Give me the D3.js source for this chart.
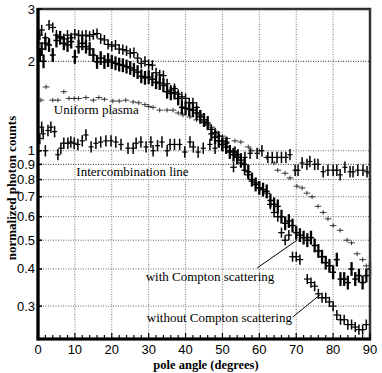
<!DOCTYPE html>
<html>
<head>
<meta charset="utf-8">
<script src="https://cdn.jsdelivr.net/npm/d3@7"></script>
<style>
body { margin: 0; background: #fff; }
</style>
</head>
<body>
<script>
// tick values
var xTicks = [0, 10, 20, 30, 40, 50, 60, 70, 80, 90];
var yTicks = [0.3, 0.4, 0.5, 0.6, 0.7, 0.8, 0.9, 1, 2, 3];

// [pole angle, normalized counts]
var withoutCompton = [[0.5,2.45],[1,2.55],[2,2.4],[3,2.65],[4,2.6],[5,2.45],[6,2.42],[7,2.38],[8,2.45],[9,2.4],
  [10,2.47],[11,2.45],[12,2.44],[13,2.45],[14,2.43],[15,2.46],[16,2.48],[17,2.38],[18,2.36],[19,2.28],
  [20,2.25],[21,2.27],[22,2.2],[23,2.19],[24,2.17],[25,2.13],[26,2.14],[27,2.05],[28,1.97],[29,2.0],
  [30,1.95],[31,1.94],[32,1.83],[33,1.8],[34,1.79],[35,1.68],[36,1.6],[37,1.62],[38,1.55],[39,1.52],
  [40,1.5],[41,1.45],[42,1.45],[43,1.4],[44,1.32],[45,1.25],[46,1.22],[47,1.18],[48,1.15],[49,1.12],
  [50,1.08],[51,1.07],[52,1.0],[53,0.88],[54,0.95],[55,0.91],[56,0.86],[57,0.83],[58,0.79],[59,0.78],
  [60,0.75],[62,0.72],[63,0.66],[64,0.62],[65,0.6],[66,0.53],[67,0.5],[68,0.52],[69,0.44],[70,0.44],
  [71,0.43],[73,0.37],[74,0.36],[75,0.35],[76,0.33],[77,0.32],[78,0.32],[79,0.31],[80,0.3],[81,0.28],
  [82,0.27],[83,0.27],[84,0.26],[85,0.26],[86,0.255],[87,0.25],[88,0.25],[89,0.26]];

var withCompton = [[0,2.3],[0.5,2.1],[1,2.2],[1.5,2.0],[2,2.3],[3,2.27],[4,2.1],[5,2.35],[6,2.4],[7,2.3],
  [8,2.27],[9,2.33],[10,2.07],[11,2.24],[12,2.3],[13,2.24],[14,2.2],[15,2.1],[16,1.99],[17,2.05],
  [18,1.99],[19,2.02],[20,1.99],[21,1.97],[22,1.95],[23,1.94],[24,1.92],[25,1.9],[26,1.87],[27,1.84],
  [28,1.78],[29,1.76],[30,1.77],[31,1.74],[32,1.7],[33,1.69],[34,1.66],[35,1.58],[36,1.56],[37,1.57],
  [38,1.5],[39,1.4],[40,1.39],[41,1.38],[42,1.37],[43,1.34],[44,1.3],[45,1.27],[46,1.24],[47,1.14],
  [48,1.11],[49,1.08],[50,1.05],[51,1.03],[52,0.99],[53,0.97],[54,0.95],[55,0.93],[56,0.9],[57,0.85],
  [58,0.8],[59,0.77],[60,0.75],[61,0.74],[62,0.73],[63,0.68],[64,0.66],[65,0.65],[66,0.6],[67,0.57],
  [68,0.58],[69,0.56],[70,0.53],[71,0.52],[72,0.51],[73,0.5],[74,0.51],[75,0.48],[76,0.46],[77,0.44],
  [78,0.42],[79,0.41],[80,0.39],[81,0.43],[82,0.37],[83,0.37],[84,0.36],[85,0.4],[86,0.37],[87,0.38],
  [88,0.36],[89,0.38],[90,0.4]];

var uniformPlasma = [[0.8,1.48],[2.2,1.64],[4,1.48],[5.4,1.48],[7,1.58],[8.4,1.5],[9.8,1.5],[11,1.5],
  [13,1.51],[15,1.48],[16.5,1.51],[18,1.49],[20.3,1.47],[22,1.47],[23.8,1.48],[25.8,1.46],[27.3,1.45],
  [29,1.43],[30,1.41],[31.2,1.4],[33,1.37],[35,1.37],[36.6,1.37],[38,1.34],[39.3,1.32],[41.2,1.3],
  [43,1.27],[45.3,1.24],[47,1.2],[48.5,1.15],[50,1.12],[51.2,1.1],[53.4,1.08],[55,1.07],[57,1.03],
  [58,1.0],[60,1.0],[62,0.95],[64,0.91],[65,0.86],[67,0.84],[68.3,0.81],[70.2,0.76],[71.6,0.75],
  [72.9,0.72],[74.3,0.7],[75.9,0.65],[77.3,0.62],[78.6,0.59],[80,0.56],[81.9,0.54],[83.8,0.5],
  [85,0.49],[86.5,0.45],[88,0.43],[89,0.41]];

var intercombination = [[0,1.0],[0.5,1.1],[1,1.2],[1.4,1.14],[2,1.0],[2.7,1.17],[3.5,1.2],[4.5,1.16],
  [5.4,0.97],[6.2,1.02],[7,1.06],[8.1,1.06],[8.9,1.07],[9.8,1.06],[10.8,1.05],[12,1.08],[13,1.13],
  [14.4,1.03],[15.7,1.06],[17,1.07],[18.4,1.08],[19.8,1.08],[21.1,1.07],[22.5,1.05],[24.4,1.02],
  [25.8,1.02],[26.6,1.06],[27.9,1.07],[29.3,1.03],[30.6,1.07],[31.2,1.0],[32.4,1.04],[33.6,1.07],
  [35,1.0],[35.8,1.05],[37,1.05],[38.4,1.05],[39.8,0.99],[41.2,1.07],[42.1,1.03],[43.4,0.99],
  [44.8,1.02],[46.6,1.05],[48,1.02],[49.9,1.05],[51.2,1.06],[52,1.0],[53.4,0.99],[54.2,0.97],
  [56.1,0.95],[57.5,0.98],[59.4,0.98],[60.7,1.0],[62.3,0.95],[63.5,0.95],[64.8,0.95],[66,0.95],
  [67.2,0.95],[68.3,0.97],[69.7,0.86],[70.5,0.86],[71.6,0.91],[72.9,0.9],[73.7,0.92],[75,0.9],
  [75.9,0.9],[77.3,0.85],[78.6,0.86],[80,0.86],[81,0.86],[81.9,0.83],[83.2,0.88],[84.6,0.85],
  [85.4,0.85],[86.7,0.86],[88.1,0.86],[89.2,0.85],[90,0.84]];

// annotation text positions (deg, value) and pointer lines
var labels = [
  {text: "Uniform plasma", at: [4.3, 1.33]},
  {text: "Intercombination line", at: [10.4, 0.822]},
  {text: "with Compton scattering", at: [29.2, 0.364], line: [[59.4, 0.403], [70.2, 0.5]]},
  {text: "without Compton scattering", at: [29.5, 0.265], line: [[69.1, 0.276], [76.4, 0.327]]}
];

var W = 382, H = 373;
var pLeft = 38, pRight = 370, pTop = 9, pBottom = 339;

var svg = d3.select("body").append("svg")
  .attr("width", W)
  .attr("height", H);

var x = d3.scaleLinear().domain([0, 90]).range([pLeft, pRight]);
var y = d3.scaleLog().domain([0.2325, 3]).range([pBottom, pTop]);

// grid
svg.append("g").selectAll("line")
  .data(yTicks.filter(d => d < 3))
  .enter().append("line")
  .attr("x1", pLeft).attr("x2", pRight)
  .attr("y1", d => y(d)).attr("y2", d => y(d))
  .attr("stroke", d => (d == 2 || d == 0.9) ? "#222" : "#666")
  .attr("stroke-width", 1)
  .attr("stroke-dasharray", "1,1.5");

svg.append("g").selectAll("line")
  .data(xTicks.filter(d => d > 0 && d < 90))
  .enter().append("line")
  .attr("x1", d => x(d)).attr("x2", d => x(d))
  .attr("y1", pTop).attr("y2", pBottom)
  .attr("stroke", "#777")
  .attr("stroke-width", 1)
  .attr("stroke-dasharray", "1,1.5");

// crosses with error bars
function crosses(data, err, half, wv, wh, color) {
  var g = svg.append("g").attr("stroke", color);
  g.selectAll(".v").data(data).enter().append("line")
    .attr("x1", d => x(d[0])).attr("x2", d => x(d[0]))
    .attr("y1", d => y(d[1] * (1 + err))).attr("y2", d => y(d[1] / (1 + err)))
    .attr("stroke-width", wv);
  g.selectAll(".h").data(data).enter().append("line")
    .attr("x1", d => x(Math.max(0, d[0] - half))).attr("x2", d => x(Math.min(90, d[0] + half)))
    .attr("y1", d => y(d[1])).attr("y2", d => y(d[1]))
    .attr("stroke-width", wh);
}

crosses(uniformPlasma, 0.018, 0.9, 0.9, 0.9, "#222");
crosses(intercombination, 0.045, 0.7, 1.5, 1.2, "#000");
crosses(withoutCompton, 0.04, 0.9, 1.5, 1.2, "#000");
crosses(withCompton, 0.055, 0.8, 2.3, 1.5, "#000");

// frame
svg.append("rect")
  .attr("x", pLeft).attr("y", pTop)
  .attr("width", pRight - pLeft).attr("height", pBottom - pTop)
  .attr("fill", "none")
  .attr("stroke", "#333")
  .attr("stroke-width", 2.5);

svg.append("line")
  .attr("x1", pLeft).attr("x2", pLeft).attr("y1", pTop - 1).attr("y2", pBottom + 1.5)
  .attr("stroke", "#000").attr("stroke-width", 3.2);
svg.append("line")
  .attr("x1", pLeft).attr("x2", pRight + 1).attr("y1", pBottom).attr("y2", pBottom)
  .attr("stroke", "#000").attr("stroke-width", 3);

// x ticks (minor every 2 deg)
svg.append("g").selectAll("line")
  .data(d3.range(0, 91, 2))
  .enter().append("line")
  .attr("x1", d => x(d)).attr("x2", d => x(d))
  .attr("y1", pBottom).attr("y2", d => d % 10 == 0 ? pBottom - 6 : pBottom - 4)
  .attr("stroke", "#000").attr("stroke-width", 1.2);

// y ticks
svg.append("g").selectAll("line")
  .data(yTicks)
  .enter().append("line")
  .attr("x1", pLeft).attr("x2", pLeft + 4)
  .attr("y1", d => y(d)).attr("y2", d => y(d))
  .attr("stroke", "#000").attr("stroke-width", 1.5);

svg.append("g").selectAll("text")
  .data(xTicks)
  .enter().append("text")
  .attr("x", d => x(d))
  .attr("y", 354)
  .attr("text-anchor", "middle")
  .style("font-family", "Liberation Sans, Arial, sans-serif")
  .style("font-size", "13px")
  .text(d => d);

svg.append("g").selectAll("text")
  .data(yTicks)
  .enter().append("text")
  .attr("x", 35)
  .attr("y", d => y(d) + 4.5)
  .attr("text-anchor", "end")
  .style("font-family", "Liberation Sans, Arial, sans-serif")
  .style("font-size", "13px")
  .text(d => d);

// axis titles
svg.append("text")
  .attr("x", 206).attr("y", 369)
  .attr("text-anchor", "middle")
  .style("font-family", "Liberation Serif, Times New Roman, serif")
  .style("font-weight", "bold")
  .style("font-size", "12.5px")
  .text("pole angle (degrees)");

svg.append("text")
  .attr("transform", "translate(16,188) rotate(-90)")
  .attr("text-anchor", "middle")
  .style("font-family", "Liberation Serif, Times New Roman, serif")
  .style("font-weight", "bold")
  .style("font-size", "13px")
  .text("normalized photon counts");

// annotations
labels.forEach(function(l) {
  svg.append("text")
    .attr("x", x(l.at[0])).attr("y", y(l.at[1]))
    .style("font-family", "Liberation Serif, Times New Roman, serif")
    .style("font-size", "13px")
    .text(l.text);
  if (l.line) {
    svg.append("line")
      .attr("x1", x(l.line[0][0])).attr("y1", y(l.line[0][1]))
      .attr("x2", x(l.line[1][0])).attr("y2", y(l.line[1][1]))
      .attr("stroke", "#000").attr("stroke-width", 1);
  }
});
</script>
</body>
</html>
